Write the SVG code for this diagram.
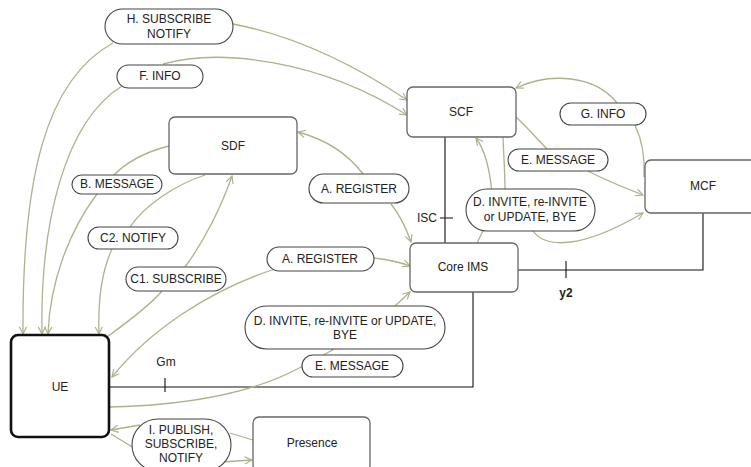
<svg xmlns="http://www.w3.org/2000/svg" width="751" height="467" viewBox="0 0 751 467">
<style>
text{font-family:"Liberation Sans",Arial,sans-serif;font-size:12px;fill:#222;text-anchor:middle}
.node{fill:#fff;stroke:#666;stroke-width:1.3}
.ue{fill:#fff;stroke:#111;stroke-width:2.6}
.lbl{fill:#fff;stroke:#444;stroke-width:1.1}
.c{fill:none;stroke:#a7b48c;stroke-width:1.3}
.ln{fill:none;stroke:#111;stroke-width:1.1}
</style>
<defs>
<marker id="ah" viewBox="0 0 10 10" refX="9" refY="5" markerWidth="9" markerHeight="9" markerUnits="userSpaceOnUse" orient="auto-start-reverse">
<path d="M1,1 L9,5 L1,9" fill="none" stroke="#a7b48c" stroke-width="1.3"/>
</marker>
</defs>
<rect width="751" height="467" fill="#fff"/>
<g id="connectors">
<path class="ln" d="M445,137 V243 M440,218 H453"/>
<path class="ln" d="M518,270 H703 V213 M566,261 V278"/>
<path class="ln" d="M109,387 H473 V292 M165,378 V392"/>
<path class="c" d="M23,334 C22,180 45,80 113,43" marker-start="url(#ah)"/>
<path class="c" d="M233,24 C290,35 350,62 407,100" marker-end="url(#ah)"/>
<path class="c" d="M42,334 C40,225 64,122 122,86" marker-start="url(#ah)"/>
<path class="c" d="M163,64 C220,48 320,60 407,115" marker-end="url(#ah)"/>
<path class="c" d="M169,146 C145,152 125,163 112,177"/>
<path class="c" d="M97,194 C70,230 50,280 48,334" marker-end="url(#ah)"/>
<path class="c" d="M205,175 C175,185 145,205 130,227"/>
<path class="c" d="M112,249 C100,275 98,305 99,334" marker-end="url(#ah)"/>
<path class="c" d="M107,337 C130,320 150,305 162,291"/>
<path class="c" d="M185,267 C205,240 222,205 232,176" marker-end="url(#ah)"/>
<path class="c" d="M363,174 C345,150 320,138 298,132" marker-end="url(#ah)"/>
<path class="c" d="M391,204 C400,215 406,228 411,242" marker-end="url(#ah)"/>
<path class="c" d="M112,377 C150,330 210,290 275,269" marker-start="url(#ah)"/>
<path class="c" d="M374,258 C390,260 400,262 410,266" marker-end="url(#ah)"/>
<path class="c" d="M110,407 C200,405 260,390 303,366"/>
<path class="c" d="M322,356 L334,349"/>
<path class="c" d="M395,306 L410,292" marker-end="url(#ah)"/>
<path class="c" d="M477,243 L483,231"/>
<path class="c" d="M492,194 C490,170 485,150 476,138" marker-end="url(#ah)"/>
<path class="c" d="M503,137 C504,160 505,175 505,190"/>
<path class="c" d="M533,231 C545,248 580,250 643,213" marker-end="url(#ah)"/>
<path class="c" d="M516,117 C528,128 538,140 547,149"/>
<path class="c" d="M588,171 C605,180 625,188 643,195" marker-end="url(#ah)"/>
<path class="c" d="M617,103 C595,75 550,72 516,88" marker-end="url(#ah)"/>
<path class="c" d="M635,125 C642,140 645,160 644,177"/>
<path class="c" d="M140,425 L111,430" marker-end="url(#ah)"/>
<path class="c" d="M111,434 L134,448"/>
<path class="c" d="M230,433 L253,440"/>
<path class="c" d="M222,462 L252,460" marker-end="url(#ah)"/>
</g>
<g id="ue"><rect class="ue" x="11" y="335" width="98" height="102" rx="7"/><text x="60" y="391">UE</text></g>
<g id="sdf"><rect class="node" x="169" y="117" width="128" height="57" rx="6"/><text x="233" y="150">SDF</text></g>
<g id="scf"><rect class="node" x="407" y="87" width="109" height="50" rx="6"/><text x="461" y="116">SCF</text></g>
<g id="mcf"><rect class="node" x="645" y="160" width="112" height="53" rx="6"/><text x="703" y="190">MCF</text></g>
<g id="core-ims"><rect class="node" x="410" y="243" width="108" height="49" rx="6"/><text x="463" y="271">Core IMS</text></g>
<g id="presence"><rect class="node" x="253" y="417" width="117" height="54" rx="6"/><text x="312" y="447">Presence</text></g>
<g id="lbl-h"><rect class="lbl" x="105" y="9" width="128" height="35" rx="17.5"/><text x="169" y="23">H. SUBSCRIBE</text><text x="169" y="38">NOTIFY</text></g>
<g id="lbl-f"><rect class="lbl" x="117" y="65" width="86" height="23" rx="11.5"/><text x="160" y="80">F. INFO</text></g>
<g id="lbl-b"><rect class="lbl" x="72" y="175" width="90" height="19" rx="9.5"/><text x="117" y="188">B. MESSAGE</text></g>
<g id="lbl-c2"><rect class="lbl" x="88" y="227" width="90" height="22" rx="11"/><text x="133" y="242">C2. NOTIFY</text></g>
<g id="lbl-c1"><rect class="lbl" x="126" y="267" width="100" height="24" rx="12"/><text x="176" y="283">C1. SUBSCRIBE</text></g>
<g id="lbl-a1"><rect class="lbl" x="309" y="174" width="100" height="29" rx="14.5"/><text x="359" y="193">A. REGISTER</text></g>
<g id="lbl-a2"><rect class="lbl" x="267" y="247" width="107" height="24" rx="12"/><text x="320" y="263">A. REGISTER</text></g>
<g id="lbl-d2"><rect class="lbl" x="245" y="306" width="200" height="43" rx="21.5"/><text x="345" y="325">D. INVITE, re-INVITE or UPDATE,</text><text x="345" y="339">BYE</text></g>
<g id="lbl-e2"><rect class="lbl" x="302" y="355" width="101" height="22" rx="11"/><text x="352" y="370">E. MESSAGE</text></g>
<g id="lbl-i"><rect class="lbl" x="132" y="419" width="99" height="52" rx="26"/><text x="181" y="434">I. PUBLISH,</text><text x="181" y="448">SUBSCRIBE,</text><text x="181" y="462">NOTIFY</text></g>
<g id="lbl-g"><rect class="lbl" x="560" y="103" width="86" height="22" rx="11"/><text x="603" y="118">G. INFO</text></g>
<g id="lbl-e1"><rect class="lbl" x="508" y="149" width="100" height="22" rx="11"/><text x="558" y="164">E. MESSAGE</text></g>
<g id="lbl-d1"><rect class="lbl" x="466" y="189" width="129" height="42" rx="21"/><text x="530" y="206">D. INVITE, re-INVITE</text><text x="530" y="221">or UPDATE, BYE</text></g>
<g id="interface-labels"><text x="427" y="222">ISC</text><text x="166" y="366">Gm</text><text x="566" y="297" font-weight="bold">y2</text></g>
</svg>
